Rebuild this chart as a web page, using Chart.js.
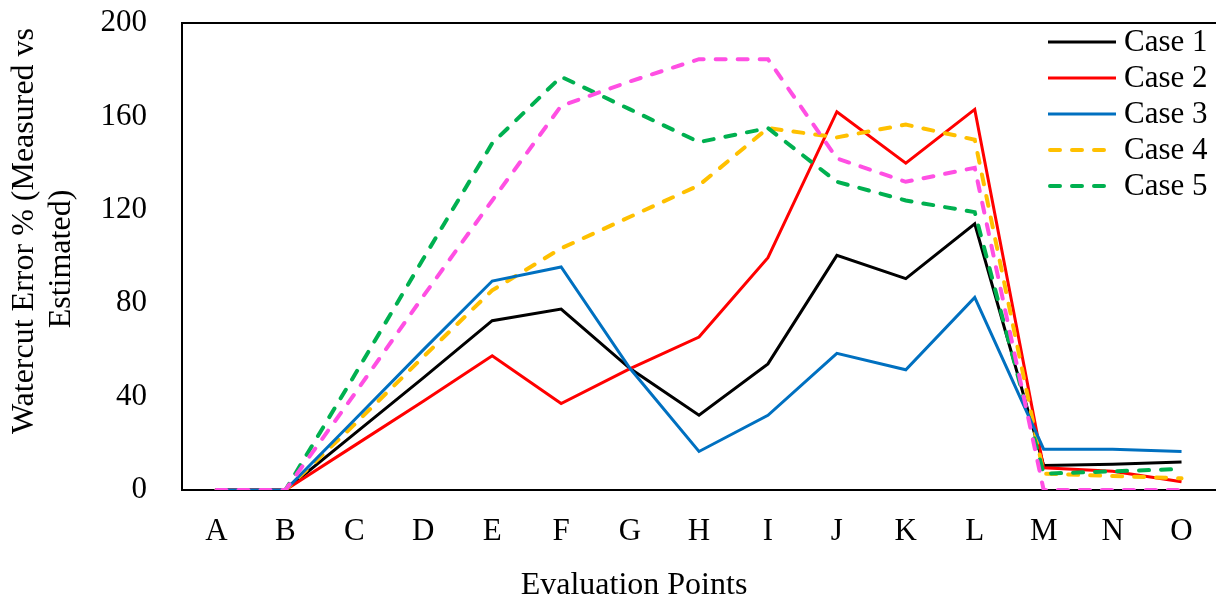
<!DOCTYPE html>
<html>
<head>
<meta charset="utf-8">
<script src="https://cdn.jsdelivr.net/npm/chart.js@4/dist/chart.umd.min.js"></script>
<style>
  html, body { margin: 0; padding: 0; background: #fff; }
  #wrap { width: 1216px; height: 601px; }
</style>
</head>
<body>
<div id="wrap"><canvas id="c" width="1216" height="601"></canvas></div>
<script>
const labels = ['A','B','C','D','E','F','G','H','I','J','K','L','M','N','O'];
const yTicks = [0, 40, 80, 120, 160, 200];
const xTitle = 'Evaluation Points';
const yTitle = ['Watercut Error % (Measured vs', 'Estimated)'];

const case1 = [0, 0, 24, 48, 72.5, 77.5, 52, 32, 54, 100.5, 90.5, 114, 10.5, 11, 12];
const case2 = [0, 0, 19, 38, 57.5, 37, 52, 65.5, 99.5, 162, 140, 163, 9.5, 8, 3.5];
const case3 = [0, 0, 30, 60, 89.5, 95.5, 52, 16.5, 32, 58.5, 51.5, 82.5, 17.5, 17.5, 16.5];
const case4 = [0, 0, 28, 57, 85.5, 103.5, 117, 130.5, 155, 151, 156.5, 150, 7, 6, 5];
const case5 = [0, 0, 49, 99, 148.5, 177, 163, 149, 155, 132, 124, 119, 7, 8, 9];
const case6 = [0, 0, 41, 83, 124, 164.5, 175, 184.5, 184.5, 142, 132, 138, 0, 0, 0];

const FONT = '"Liberation Serif", "Times New Roman", serif';
const DASH = [10, 12];

function line(label, data, color, dashed, order, inLegend){
  return {
    label, data,
    borderColor: color,
    backgroundColor: color,
    borderWidth: dashed ? 4 : 3,
    borderDash: dashed ? DASH : [],
    borderCapStyle: dashed ? 'round' : 'butt',
    pointRadius: 0,
    tension: 0,
    fill: false,
    order,
    inLegend
  };
}

// top frame line, in-plot legend and the axis titles (Excel puts them off-centre)
const framePlugin = {
  id: 'frame',
  afterDraw(chart){
    const { ctx, chartArea } = chart;
    ctx.save();
    ctx.strokeStyle = '#000';
    ctx.lineWidth = 2;
    ctx.beginPath();
    ctx.moveTo(chartArea.left, chartArea.top);
    ctx.lineTo(chartArea.right, chartArea.top);
    ctx.stroke();

    // legend
    const x0 = chartArea.right - 168;
    let y = chartArea.top + 19;
    ctx.font = '31px ' + FONT;
    ctx.textBaseline = 'middle';
    ctx.textAlign = 'left';
    chart.data.datasets.forEach(ds => {
      if (!ds.inLegend) return;
      ctx.strokeStyle = ds.borderColor;
      ctx.lineWidth = ds.borderWidth;
      ctx.lineCap = ds.borderCapStyle;
      ctx.setLineDash(ds.borderDash);
      ctx.beginPath();
      ctx.moveTo(x0 + (ds.borderDash.length ? 2 : 0), y);
      ctx.lineTo(x0 + 68, y);
      ctx.stroke();
      ctx.setLineDash([]);
      ctx.fillStyle = '#000';
      ctx.fillText(ds.label, x0 + 76, y + 1);
      y += 36;
    });

    // axis titles
    ctx.fillStyle = '#000';
    ctx.font = '32px ' + FONT;
    ctx.textAlign = 'center';
    ctx.textBaseline = 'alphabetic';
    ctx.fillText(xTitle, 634, 594);

    ctx.textBaseline = 'middle';
    const yc = [231, 259];
    const xc = [25, 62];
    yTitle.forEach((t, i) => {
      ctx.save();
      ctx.translate(xc[i], yc[i]);
      ctx.rotate(-Math.PI / 2);
      ctx.fillText(t, 0, 0);
      ctx.restore();
    });
    ctx.restore();
  }
};

new Chart(document.getElementById('c'), {
  type: 'line',
  data: {
    labels,
    datasets: [
      line('Case 1', case1, '#000000', false, 5, true),
      line('Case 2', case2, '#FF0000', false, 4, true),
      line('Case 3', case3, '#0070C0', false, 1, true),
      line('Case 4', case4, '#FFC000', true, 3, true),
      line('Case 5', case5, '#00B050', true, 2, true),
      line('Case 6', case6, '#FF4FE3', true, 0, false)
    ]
  },
  options: {
    responsive: false,
    animation: false,
    layout: { padding: 0 },
    plugins: {
      legend: { display: false },
      tooltip: { enabled: false }
    },
    scales: {
      x: {
        offset: true,
        grid: { display: false },
        border: { display: true, color: '#000', width: 2 },
        ticks: { color: '#000', font: { family: FONT, size: 31 }, padding: 15, maxRotation: 0 },
        afterFit(s){ s.height = 111; }
      },
      y: {
        min: 0, max: 200,
        afterBuildTicks(s){ s.ticks = yTicks.map(v => ({ value: v })); },
        grid: { display: false },
        border: { display: true, color: '#000', width: 2 },
        ticks: { color: '#000', font: { family: FONT, size: 31 }, padding: 27 },
        afterFit(s){ s.width = 182; s.paddingTop = 23; s.paddingBottom = 0; }
      }
    }
  },
  plugins: [framePlugin]
});
</script>
</body>
</html>
